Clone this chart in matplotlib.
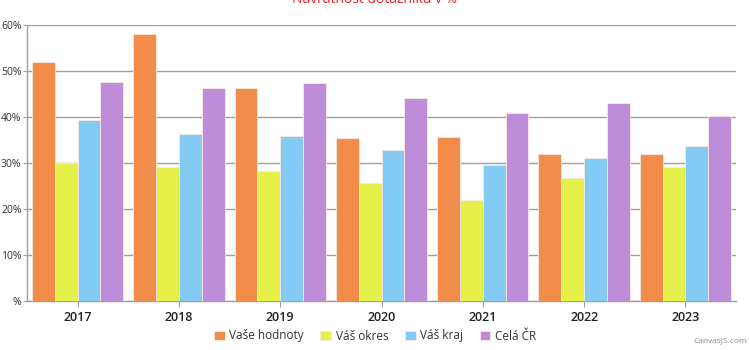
import numpy as np
import matplotlib.pyplot as plt

plt.rcParams['font.family'] = ['Open Sans', 'DejaVu Sans']

# data (percent)
years = ["2017", "2018", "2019", "2020", "2021", "2022", "2023"]
vase_hodnoty = [52.0, 58.0, 46.2, 35.4, 35.6, 32.0, 31.9]
vas_okres = [30.0, 29.2, 28.3, 25.6, 22.0, 26.7, 29.1]
vas_kraj = [39.4, 36.4, 35.9, 32.9, 29.5, 31.1, 33.8]
cela_cr = [47.7, 46.2, 47.4, 44.2, 40.9, 43.0, 40.2]

series = [
    ("Vaše hodnoty", vase_hodnoty, "#F28C4B"),
    ("Váš okres", vas_okres, "#E5F04B"),
    ("Váš kraj", vas_kraj, "#83CAF4"),
    ("Celá ČR", cela_cr, "#BE8DD9"),
]
yticks = [0, 10, 20, 30, 40, 50, 60]
ytick_labels = ["%", "10%", "20%", "30%", "40%", "50%", "60%"]

fig = plt.figure(figsize=(7.5, 3.5), dpi=100)
ax = fig.add_axes([27 / 750, 49 / 350, 709 / 750, 276 / 350])

x = np.arange(len(years))
w = 0.225
for i, (name, vals, col) in enumerate(series):
    ax.bar(x + (i - 1.5) * w, vals, width=w, color=col, edgecolor="#FBE9E0",
           linewidth=0.6, label=name, zorder=3)

ax.set_xlim(-0.5, len(years) - 0.5)
ax.set_ylim(0, 60)
ax.set_yticks(yticks)
ax.set_yticklabels(ytick_labels)
ax.set_xticks(x)
ax.set_xticklabels(years)
ax.grid(axis="y", color="#A0A0A0", linewidth=1, zorder=0)
for s in ["top", "right"]:
    ax.spines[s].set_visible(False)
for s in ["left", "bottom"]:
    ax.spines[s].set_color("#A0A0A0")
    ax.spines[s].set_linewidth(1)
ax.tick_params(axis="y", length=3, color="#A0A0A0", labelsize=7.5, labelcolor="#333333", pad=1)
ax.tick_params(axis="x", length=4, color="#A0A0A0", labelsize=9, labelcolor="#222222", pad=3)
for lbl in ax.get_xticklabels():
    lbl.set_fontweight("semibold")

leg = fig.legend(loc="center", bbox_to_anchor=(0.5, 14 / 350), ncol=4, frameon=False,
                 fontsize=8.5, handlelength=0.9, handleheight=0.9, handletextpad=0.4,
                 columnspacing=1.4, labelcolor="#333333")

fig.text(0.96, 9 / 350, "CanvasJS.com", fontsize=6, color="#888888", ha="center", va="center")
# title sits mostly above the visible area, only its lower edge shows
fig.text(0.5, 1.0 - 3 / 350, "Návratnost dotazníků v %", fontsize=10, color="#EE2222",
         ha="center", va="baseline")

fig.savefig("out.png", dpi=100)
